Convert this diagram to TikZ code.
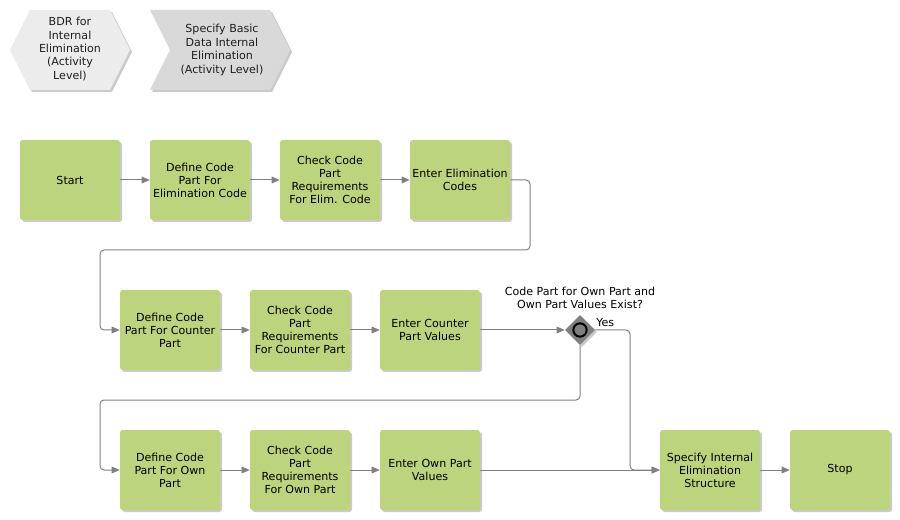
\documentclass[tikz,border=0pt]{standalone}
\usepackage{fontspec}
\setmainfont{DejaVu Sans}
\usetikzlibrary{shapes.geometric,shadows,arrows.meta}
\definecolor{boxgreen}{RGB}{189,212,126}
\definecolor{connGray}{RGB}{128,128,128}
\definecolor{hexLight}{RGB}{236,236,236}
\definecolor{hexDark}{RGB}{217,217,217}
\definecolor{txtGray}{RGB}{30,30,30}
\tikzset{
  shad/.style={drop shadow={shadow xshift=1.5pt,shadow yshift=-1.5pt,opacity=0.35,fill=black!60}},
  task/.style={rectangle,rounded corners=2pt,fill=boxgreen,minimum width=75pt,minimum height=60pt,
    inner sep=0.5pt,align=center,font=\fontsize{8.3}{9.75}\selectfont,text=black,shad},
  conn/.style={draw=connGray,line width=0.75pt,rounded corners=3pt,-{Triangle[length=6pt,width=5pt]}},
  lbl/.style={font=\fontsize{8.3}{9.75}\selectfont,align=center,text=black,inner sep=0pt},
}
\begin{document}
\begin{tikzpicture}[x=0.75pt,y=-0.75pt]
\useasboundingbox (0,0) rectangle (900,520);
% top shapes
\fill[hexLight,shad] (10,50) -- (30,10) -- (110,10) -- (130,50) -- (110,90) -- (30,90) -- cycle;
\node[lbl,text=txtGray,font=\fontsize{8.3}{10.1}\selectfont] (bdr) at (70,49) {BDR for\\Internal\\Elimination\\(Activity\\Level)};
\fill[hexDark,shad] (150,10) -- (270,10) -- (290,50) -- (270,90) -- (150,90) -- (170,50) -- cycle;
\node[lbl,text=txtGray,font=\fontsize{8.3}{10.1}\selectfont] (spec0) at (222,50) {Specify Basic\\Data Internal\\Elimination\\(Activity Level)};
% row 1
\node[task] (start) at (70,180) {Start};
\node[task] (def1) at (200,180) {Define Code\\Part For\\Elimination Code};
\node[task] (chk1) at (330,180) {Check Code\\Part\\Requirements\\For Elim. Code};
\node[task] (ent1) at (460,180) {Enter Elimination\\Codes};
% row 2
\node[task] (def2) at (170,330) {Define Code\\Part For Counter\\Part};
\node[task] (chk2) at (300,330) {Check Code\\Part\\Requirements\\For Counter Part};
\node[task] (ent2) at (430,330) {Enter Counter\\Part Values};
\node[diamond,fill=connGray,minimum size=22.5pt,inner sep=0pt,shad] (dec) at (580,330) {};
\node[circle,draw=black,line width=1.5pt,fill=connGray,minimum size=10pt,inner sep=0pt] (decc) at (dec.center) {};
\node[lbl] (declbl) at (580,298) {Code Part for Own Part and\\Own Part Values Exist?};
\node[lbl,anchor=west] (yes) at (596,323) {Yes};
% row 3
\node[task] (def3) at (170,470) {Define Code\\Part For Own\\Part};
\node[task] (chk3) at (300,470) {Check Code\\Part\\Requirements\\For Own Part};
\node[task] (ent3) at (430,470) {Enter Own Part\\Values};
\node[task] (spec) at (710,470) {Specify Internal\\Elimination\\Structure};
\node[task] (stop) at (840,470) {Stop};
% connectors
\draw[conn] (start.east) -- (def1.west);
\draw[conn] (def1.east) -- (chk1.west);
\draw[conn] (chk1.east) -- (ent1.west);
\draw[conn] (ent1.east) -- (530,180) -- (530,250) -- (100,250) -- (100,330) -- (def2.west);
\draw[conn] (def2.east) -- (chk2.west);
\draw[conn] (chk2.east) -- (ent2.west);
\draw[conn] (ent2.east) -- (dec.west);
\draw[conn] (dec.east) -- (630,330) -- (630,470) -- (spec.west);
\draw[conn] (dec.south) -- (580,400) -- (100,400) -- (100,470) -- (def3.west);
\draw[conn] (def3.east) -- (chk3.west);
\draw[conn] (chk3.east) -- (ent3.west);
\draw[conn] (ent3.east) -- (spec.west);
\draw[conn] (spec.east) -- (stop.west);
\end{tikzpicture}
\end{document}
